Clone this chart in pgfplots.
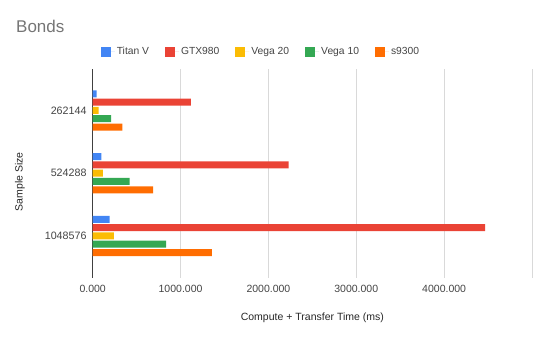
\documentclass[border=0pt]{standalone}
\usepackage{pgfplots}
\pgfplotsset{compat=1.18}
\usepackage{fontspec}
\setmainfont{Liberation Sans}
\definecolor{titan}{HTML}{4285F4}
\definecolor{gtx}{HTML}{EA4335}
\definecolor{vegaT}{HTML}{FBBC04}
\definecolor{vegaX}{HTML}{34A853}
\definecolor{sn}{HTML}{FF6D01}
\definecolor{gridc}{HTML}{D9D9D9}
\definecolor{labc}{HTML}{444444}
\definecolor{titc}{HTML}{757575}
\begin{document}
\begin{tikzpicture}
\path[use as bounding box] (0,0) rectangle (550pt,340pt);
\node[anchor=west, text=titc, font=\fontsize{17}{20}\selectfont, inner sep=0] at (16pt,314pt) {Bonds};
\begin{axis}[
  at={(92.7pt,62pt)}, anchor=south west,
  width=439.3pt, height=209pt, scale only axis,
  xmin=0, xmax=5000, ymin=-0.67, ymax=2.66,
  axis lines*=left,
  x axis line style={draw=none},
  y axis line style={draw=black!75, line width=0.8pt},
  xtick={0,1000,2000,3000,4000,5000},
  xticklabels={0.000,1000.000,2000.000,3000.000,4000.000,{}},
  ytick={0,1,2},
  yticklabels={1048576,524288,262144},
  xmajorgrids,
  major grid style={gridc, line width=0.8pt},
  major tick length=0pt,
  tick style={draw=none},
  xticklabel style={font=\fontsize{10.5}{12}\selectfont, text=labc, anchor=north, inner sep=0pt, yshift=-7pt},
  yticklabel style={font=\fontsize{10.7}{12}\selectfont, text=labc, anchor=east, inner sep=0pt, xshift=-6pt},
  xlabel={Compute + Transfer Time (ms)},
  ylabel={Sample Size},
  xlabel style={at={(axis description cs:0.5,-0.19)}, anchor=center, font=\fontsize{10.5}{12}\selectfont, text=black!85},
  ylabel style={at={(axis description cs:-0.1655,0.461)}, anchor=center, rotate=0, font=\fontsize{10.5}{12}\selectfont, text=black!85},
  legend columns=5,
  legend style={at={(axis description cs:0.383,1.083)}, anchor=center, draw=none, fill=none,
    font=\fontsize{10.3}{12}\selectfont, text=labc,
    /tikz/every even column/.append style={column sep=14pt}},
  legend image code/.code={\path (0pt,0pt) -- (14pt,0pt); \fill[#1] (0pt,-5pt) rectangle (10pt,5pt);},
  every axis plot/.append style={xbar, bar width=7pt, draw=none},
]
\addplot[fill=titan, bar shift=16.6pt] coordinates {(45,2) (98,1) (193,0)};
\addplot[fill=gtx, bar shift=8.3pt] coordinates {(1117,2) (2231,1) (4466,0)};
\addplot[fill=vegaT, bar shift=0pt] coordinates {(68,2) (117,1) (242,0)};
\addplot[fill=vegaX, bar shift=-8.3pt] coordinates {(211,2) (420,1) (836,0)};
\addplot[fill=sn, bar shift=-16.6pt] coordinates {(337,2) (689,1) (1356,0)};
\legend{Titan V,GTX980,Vega 20,Vega 10,s9300}
\end{axis}
\end{tikzpicture}
\end{document}
